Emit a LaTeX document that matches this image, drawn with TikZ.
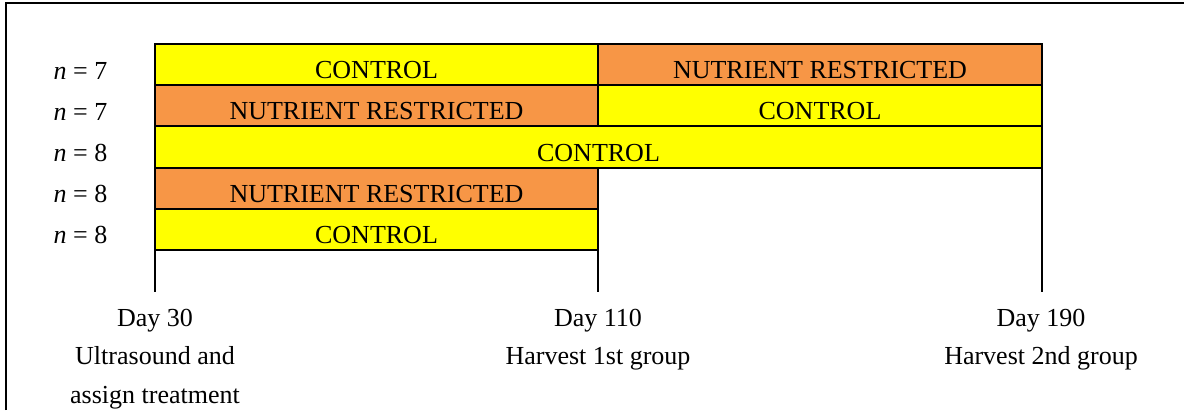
\documentclass[tikz,border=0pt]{standalone}
\usepackage{fontspec}
\setmainfont{Liberation Serif}
\definecolor{ctrl}{HTML}{FFFF00}
\definecolor{restr}{HTML}{F79646}
\tikzset{
  cell/.style={rectangle, inner sep=0pt, outer sep=0pt, anchor=north west, minimum height=41.2pt},
  cellborder/.style={draw=black, line width=1.9pt},
  txt/.style={font=\fontsize{26}{31}\selectfont, inner sep=0pt, anchor=base},
  axisline/.style={line width=1.9pt},
  frameline/.style={line width=2pt}
}
\begin{document}
\begin{tikzpicture}[x=1pt,y=-1pt]
\useasboundingbox (0,0) rectangle (1184,410);
\draw[frameline] (6,410) -- (6,3) -- (1184,3);
% row 1
\node[cell, fill=ctrl, minimum width=443pt] (a1) at (155,44) {};
\node[cell, fill=restr, minimum width=444pt] (b1) at (598,44) {};
% row 2
\node[cell, fill=restr, minimum width=443pt] (a2) at (155,85.2) {};
\node[cell, fill=ctrl, minimum width=444pt] (b2) at (598,85.2) {};
% row 3
\node[cell, fill=ctrl, minimum width=887pt] (c3) at (155,126.4) {};
% row 4
\node[cell, fill=restr, minimum width=443pt] (a4) at (155,167.6) {};
% row 5
\node[cell, fill=ctrl, minimum width=443pt] (a5) at (155,208.8) {};
% borders
\foreach \c in {a1,b1,a2,b2,c3,a4,a5}
  \draw[cellborder] (\c.north west) rectangle (\c.south east);
% texts in cells
\node[txt] (ta1) at ([yshift=6.5pt]a1.south) {CONTROL};
\node[txt] (tb1) at ([yshift=6.5pt]b1.south) {NUTRIENT RESTRICTED};
\node[txt] (ta2) at ([yshift=6.5pt]a2.south) {NUTRIENT RESTRICTED};
\node[txt] (tb2) at ([yshift=6.5pt]b2.south) {CONTROL};
\node[txt] (tc3) at ([yshift=6.5pt]c3.south) {CONTROL};
\node[txt] (ta4) at ([yshift=6.5pt]a4.south) {NUTRIENT RESTRICTED};
\node[txt] (ta5) at ([yshift=6.5pt]a5.south) {CONTROL};
% n labels
\node[txt] (n1) at (80.5,79) {\textit{n} = 7};
\node[txt] (n2) at (80.5,120.2) {\textit{n} = 7};
\node[txt] (n3) at (80.5,161.4) {\textit{n} = 8};
\node[txt] (n4) at (80.5,202.6) {\textit{n} = 8};
\node[txt] (n5) at (80.5,243.8) {\textit{n} = 8};
% vertical axis lines
\coordinate (e30) at (155,291.5);
\coordinate (e110) at (598,291.5);
\coordinate (e190) at (1042,291.5);
\draw[axisline] (a5.south west) -- (e30);
\draw[axisline] (a5.south east) -- (e110);
\draw[axisline] (c3.south east) -- (e190);
% bottom labels
\node[txt] (d30) at (155,326) {Day 30};
\node[txt] (d30b) at (155,364.5) {Ultrasound and};
\node[txt] (d30c) at (155,403) {assign treatment};
\node[txt] (d110) at (598,326) {Day 110};
\node[txt] (d110b) at (598,364.5) {Harvest 1st group};
\node[txt] (d190) at (1041,326) {Day 190};
\node[txt] (d190b) at (1041,364.5) {Harvest 2nd group};
\end{tikzpicture}
\end{document}
